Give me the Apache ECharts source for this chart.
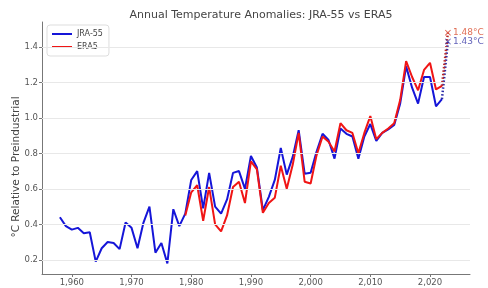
<!DOCTYPE html>
<html>
<head>
<meta charset="utf-8">
<script src="https://cdn.jsdelivr.net/npm/echarts@6/dist/echarts.min.js"></script>
<style>
  html, body { margin: 0; padding: 0; background: #fff; }
  #chart { width: 488px; height: 288px; }
</style>
</head>
<body>
<div id="chart"></div>
<script>
// JRA-55, 1958-2022
const jraStart = 1958;
const jraValues = [
  0.44, 0.39, 0.37, 0.38, 0.35, 0.355, 0.19, 0.265, 0.30, 0.295,
  0.26, 0.41, 0.38, 0.265, 0.41, 0.50, 0.24, 0.295, 0.18, 0.485,
  0.39, 0.46, 0.65, 0.70, 0.49, 0.69, 0.50, 0.46, 0.54, 0.69,
  0.70, 0.60, 0.785, 0.72, 0.48, 0.555, 0.65, 0.83, 0.68, 0.78,
  0.93, 0.685, 0.69, 0.81, 0.91, 0.875, 0.77, 0.94, 0.91, 0.895,
  0.77, 0.895, 0.965, 0.87, 0.915, 0.935, 0.96, 1.08, 1.29, 1.17,
  1.08, 1.23, 1.23, 1.065, 1.105
];
// ERA5, 1979-2022
const eraStart = 1979;
const eraValues = [
  0.45, 0.58, 0.62, 0.42, 0.61, 0.40, 0.36, 0.45, 0.61, 0.64,
  0.52, 0.755, 0.71, 0.465, 0.52, 0.55, 0.73, 0.60, 0.735, 0.915,
  0.64, 0.63, 0.79, 0.895, 0.865, 0.81, 0.97, 0.93, 0.915, 0.80,
  0.915, 1.01, 0.88, 0.915, 0.94, 0.97, 1.10, 1.32, 1.23, 1.155,
  1.27, 1.31, 1.16, 1.18
];
// 2023 estimates
const lastYear = 2023;
const jraLast = 1.43;
const eraLast = 1.48;

const xTicks = [1960, 1970, 1980, 1990, 2000, 2010, 2020];
const yTicks = [0.2, 0.4, 0.6, 0.8, 1.0, 1.2, 1.4];

const blue = '#1515d8';
const red = '#f01515';
const font = 'DejaVu Sans';

const toPairs = (start, vals) => vals.map((v, i) => [start + i, v]);
const jraData = toPairs(jraStart, jraValues);
const eraData = toPairs(eraStart, eraValues);

const xMark = 'path://M0,1 L1,0 L5,4 L9,0 L10,1 L6,5 L10,9 L9,10 L5,6 L1,10 L0,9 L4,5 Z';

const chart = echarts.init(document.getElementById('chart'));
chart.setOption({
  animation: false,
  textStyle: { fontFamily: font },
  title: {
    text: 'Annual Temperature Anomalies: JRA-55 vs ERA5',
    left: 256, top: 5, textAlign: 'center',
    textStyle: { fontSize: 11, fontWeight: 'normal', color: '#444', fontFamily: font }
  },
  legend: {
    data: [{ name: 'JRA-55', icon: 'rect' }, { name: 'ERA5', icon: 'rect' }],
    orient: 'vertical',
    left: 47, top: 25,
    itemWidth: 20, itemHeight: 2, itemGap: 3,
    padding: [4, 6, 4, 5],
    borderColor: '#ddd', borderWidth: 1, borderRadius: 3,
    textStyle: { fontSize: 8, color: '#444', fontFamily: font, lineHeight: 10 }
  },
  grid: { left: 42, right: 18, top: 22, bottom: 14 },
  xAxis: {
    type: 'value', min: 1955, max: 2026.7,
    axisLine: { lineStyle: { color: '#777' } },
    axisTick: { customValues: xTicks, length: 3, lineStyle: { color: '#777' } },
    axisLabel: { customValues: xTicks, fontSize: 8.5, color: '#555', margin: 4 },
    splitLine: { show: false }
  },
  yAxis: {
    type: 'value', min: 0.12, max: 1.54,
    axisLine: { show: true, lineStyle: { color: '#777' } },
    axisTick: { show: true, customValues: yTicks, length: 3, lineStyle: { color: '#777' } },
    axisLabel: { customValues: yTicks, fontSize: 8.5, color: '#555', margin: 4,
      formatter: v => v.toFixed(1) },
    splitLine: { show: false }
  },
  graphic: [{
    type: 'text', x: 16, y: 167, rotation: Math.PI / 2,
    style: { text: '°C Relative to Preindustrial', fontSize: 10.5, fill: '#444',
      fontFamily: font, textAlign: 'center', textVerticalAlign: 'middle' }
  }],
  series: [
    {
      name: 'grid', type: 'line', data: [], z: 1, silent: true,
      markLine: {
        silent: true, symbol: ['none', 'none'], label: { show: false },
        lineStyle: { color: '#e8e8e8', width: 1, type: 'solid' },
        data: yTicks.map(v => ({ yAxis: v }))
      }
    },
    {
      name: 'JRA-55', type: 'line', data: jraData, symbol: 'none',
      color: blue, lineStyle: { width: 2, color: blue }, z: 3
    },
    {
      name: 'ERA5', type: 'line', data: eraData, symbol: 'none',
      color: red, lineStyle: { width: 2, color: red }, z: 4
    },
    {
      name: 'JRA-55 2023', type: 'line', symbol: 'none', z: 3,
      data: [jraData[jraData.length - 1], [lastYear, jraLast]],
      lineStyle: { width: 2.5, type: [1.5, 2], color: '#2a2aa8' }
    },
    {
      name: 'ERA5 2023', type: 'line', symbol: 'none', z: 4,
      data: [eraData[eraData.length - 1], [lastYear, eraLast]],
      lineStyle: { width: 2.5, type: [1.5, 2], color: '#b82828' }
    },
    {
      name: 'marks', type: 'scatter', z: 5, symbol: xMark, symbolSize: 6,
      data: [
        { value: [lastYear, eraLast], itemStyle: { color: '#d83a22' },
          label: { color: '#d84a2a' } },
        { value: [lastYear, jraLast], itemStyle: { color: '#3232a8' },
          label: { color: '#3a3aa8' } }
      ],
      label: {
        show: true, position: 'right', distance: 2, fontSize: 9, fontFamily: font,
        formatter: p => p.value[1].toFixed(2) + '°C'
      }
    }
  ]
});
</script>
</body>
</html>
